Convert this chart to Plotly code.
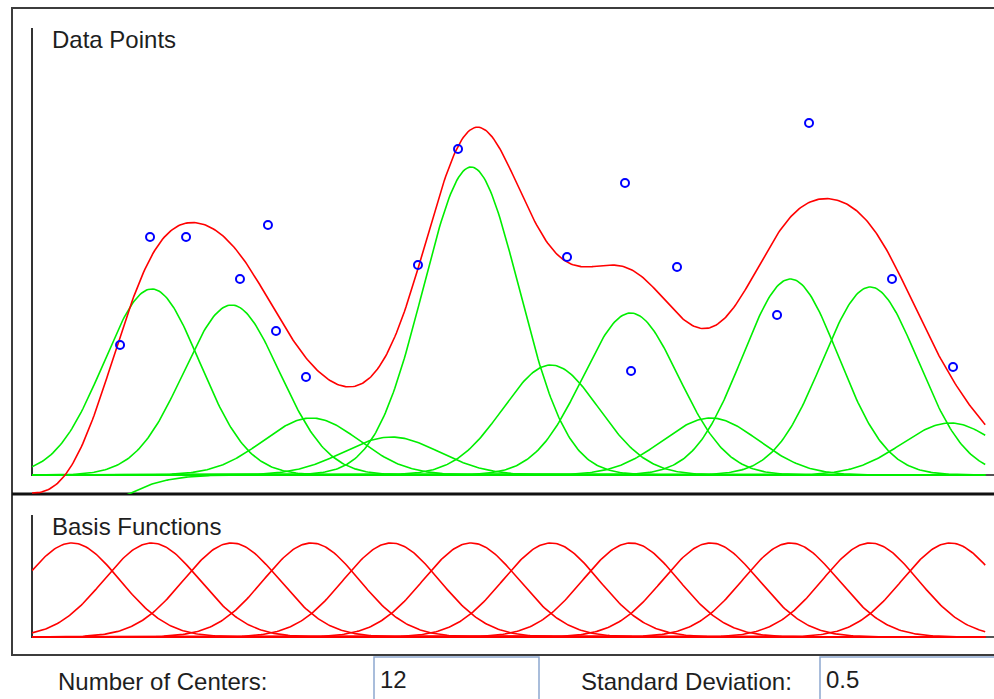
import numpy as np
import plotly.graph_objects as go

# ---- RBF network state ----
num_centers = 12
std_dev = 0.5
x_min, x_max = 0.0, 10.0

# output-layer weights, one per basis function
weights = [-0.0925, 0.465, 0.425, 0.1425, 0.095, 0.77, 0.275, 0.405, 0.1425, 0.49, 0.47, 0.13]

# training samples
data_x = [0.919, 1.232, 1.608, 2.171, 2.463, 2.547, 2.860, 4.029, 4.447,
          5.585, 6.190, 6.253, 6.733, 7.777, 8.111, 8.977, 9.614]
data_y = [0.325, 0.595, 0.595, 0.490, 0.625, 0.360, 0.245, 0.525, 0.815,
          0.545, 0.730, 0.260, 0.520, 0.400, 0.880, 0.490, 0.270]

W, H = 994, 699
RED, GREEN, BLUE = "#ff0000", "#00ee00", "#0000ff"
FONT = "Liberation Sans, Arial, sans-serif"


def px(x):
    return x / W


def py(y):
    return 1 - y / H


centers = [x_min + (k + 0.5) * (x_max - x_min) / num_centers for k in range(num_centers)]
# curves are drawn up to the last visible column of the panel
xs = np.linspace(x_min, 9.95, 600)
basis = [np.exp(-(xs - c) ** 2 / (2 * std_dev ** 2)) for c in centers]
output = sum(w * b for w, b in zip(weights, basis))

fig = go.Figure()

# weighted basis functions (top panel)
for w, b in zip(weights, basis):
    fig.add_trace(go.Scatter(x=xs, y=w * b, mode="lines", line=dict(color=GREEN, width=1.6),
                             xaxis="x", yaxis="y", hoverinfo="skip"))
# network output
fig.add_trace(go.Scatter(x=xs, y=output, mode="lines", line=dict(color=RED, width=1.6),
                         xaxis="x", yaxis="y", hoverinfo="skip"))
# data points
fig.add_trace(go.Scatter(x=data_x, y=data_y, mode="markers",
                         marker=dict(symbol="circle-open", size=8, color=BLUE,
                                     line=dict(width=2, color=BLUE)),
                         xaxis="x", yaxis="y", cliponaxis=False))

# raw basis functions (bottom panel)
for b in basis:
    fig.add_trace(go.Scatter(x=xs, y=b, mode="lines", line=dict(color=RED, width=1.6),
                             xaxis="x2", yaxis="y2", hoverinfo="skip"))

axis_off = dict(visible=False, showgrid=False, zeroline=False, fixedrange=True)
top_scale = 400.0   # pixels per unit, top panel
bot_scale = 94.0    # pixels per unit, bottom panel
plot_left, plot_right = 32, 990

fig.update_layout(
    width=W, height=H, autosize=False,
    margin=dict(l=0, r=0, t=0, b=0),
    paper_bgcolor="white", plot_bgcolor="rgba(0,0,0,0)",
    showlegend=False,
    xaxis=dict(axis_off, domain=[px(plot_left), px(plot_right)], range=[x_min, x_max], anchor="y"),
    yaxis=dict(axis_off, domain=[py(494), py(10)],
               range=[(475 - 494) / top_scale, (475 - 10) / top_scale], anchor="x"),
    xaxis2=dict(axis_off, domain=[px(plot_left), px(plot_right)], range=[x_min, x_max], anchor="y2"),
    yaxis2=dict(axis_off, domain=[py(640), py(500)],
                range=[(637 - 640) / bot_scale, (637 - 500) / bot_scale], anchor="x2"),
)


def line(x0, y0, x1, y1, color, width):
    return dict(type="line", xref="paper", yref="paper", layer="below",
                x0=px(x0), y0=py(y0), x1=px(x1), y1=py(y1),
                line=dict(color=color, width=width))


shapes = [
    # outer frame
    dict(type="rect", xref="paper", yref="paper", layer="below",
         x0=px(12), y0=py(655), x1=px(1010), y1=py(8),
         line=dict(color="#3c3c3c", width=2)),
    # panel separator
    line(12, 494, 1000, 494, "#111111", 3),
    # top panel axes
    line(32, 28, 32, 476, "#333333", 2),
    line(32, 475, 1000, 475, "#555555", 2),
    # bottom panel axes
    line(32, 515, 32, 638, "#333333", 2),
    line(32, 637, 1000, 637, "#555555", 2),
    # input boxes
    dict(type="rect", xref="paper", yref="paper", layer="below",
         x0=px(374), y0=py(720), x1=px(539), y1=py(657),
         line=dict(color="#8da8cf", width=1.5)),
    dict(type="rect", xref="paper", yref="paper", layer="below",
         x0=px(820), y0=py(720), x1=px(1010), y1=py(657),
         line=dict(color="#8da8cf", width=1.5)),
]
fig.update_layout(shapes=shapes)


def label(text, x, y):
    return dict(text=text, xref="paper", yref="paper", x=px(x), y=py(y),
                xanchor="left", yanchor="middle", showarrow=False,
                font=dict(family=FONT, size=24, color="#1e1e1e"))


fig.update_layout(annotations=[
    label("Data Points", 50, 40),
    label("Basis Functions", 50, 526),
    label("Number of Centers:", 56, 681),
    label(str(num_centers), 378, 679),
    label("Standard Deviation:", 579, 681),
    label(str(std_dev), 824, 679),
])

fig.write_html("out.html")
